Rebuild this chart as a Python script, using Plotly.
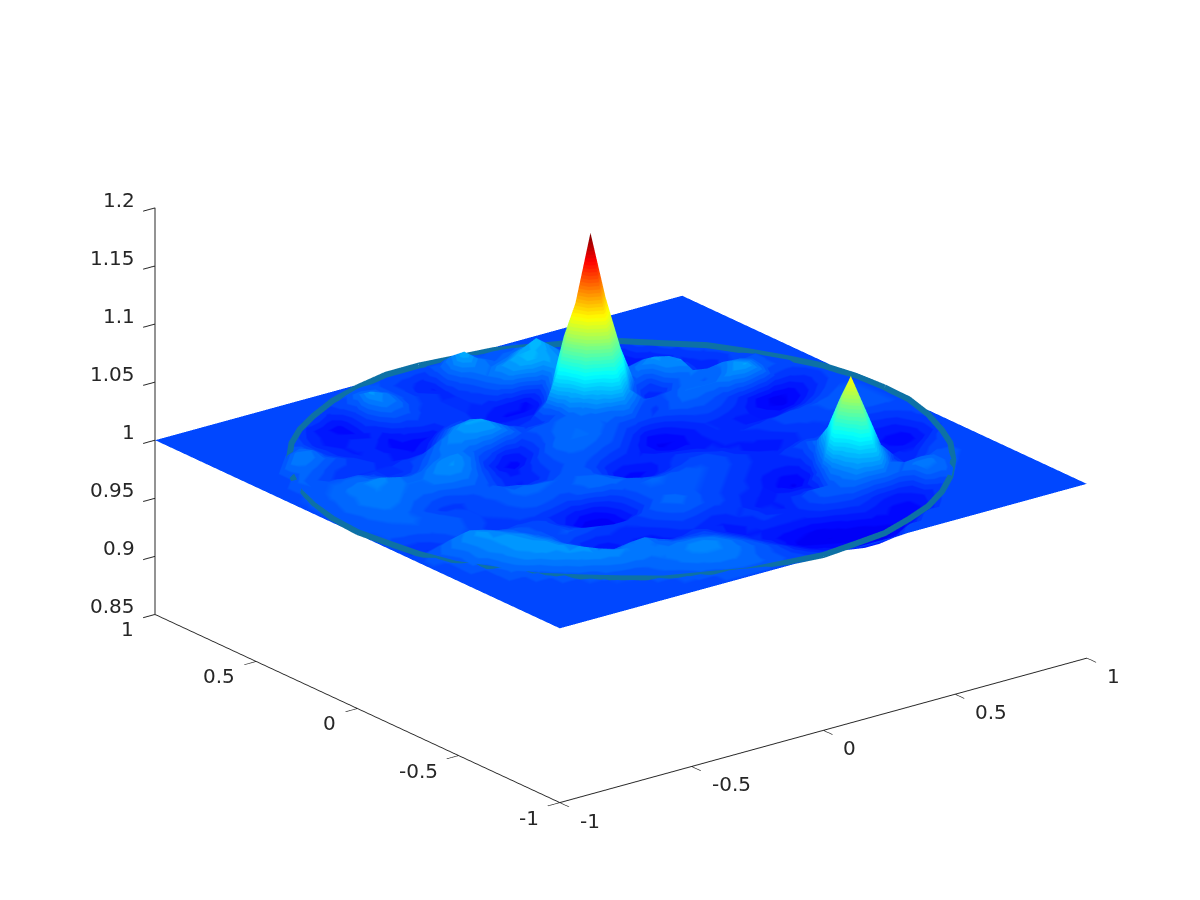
import numpy as np
import plotly.graph_objects as go

# Surface height above 1, in thousandths, rows y=-1..1 (36 rows), columns x=-1..1 (36 columns)
def row(lead, vals):
    return [0] * lead + vals + [0] * (36 - lead - len(vals))

height_rows = [
    row(0, []),
    row(12, [3,4,4,2,0,-2,-4,-6,-8,-10,-10,-8]),
    row(10, [2,5,7,7,5,2,0,-3,-6,-9,-11,-12,-13,-14,-12,-7]),
    row(8, [0,3,5,8,9,9,7,4,1,-3,-8,-12,-13,-14,-15,-16,-15,-13,-10,-6]),
    row(7, [1,2,4,6,8,10,10,8,4,0,-5,-10,-14,-15,-16,-15,-14,-12,-11,-12,-11,-5]),
    row(6, [2,6,8,8,7,7,8,8,6,2,-2,-7,-10,-12,-13,-14,-12,-9,-7,-9,-11,-11,-8,-3]),
    row(5, [4,8,11,11,9,7,6,4,3,2,0,-4,-8,-8,-8,-8,-8,-5,-3,-2,-4,-7,-8,-6,6,5]),
    row(4, [4,9,12,13,8,4,6,7,2,-2,-2,-2,-6,-10,-7,-4,-5,-6,-2,2,3,6,5,6,3,7,7,3]),
    row(3, [5,10,13,13,10,2,-8,-10,-5,-8,-9,-7,-5,-7,-8,-5,-4,-7,-8,-3,1,1,8,18,24,6,3,4,3,2]),
    row(3, [7,12,14,12,7,0,-9,-11,-7,-8,-8,-5,-2,-3,-5,-4,-5,-8,-8,-6,-6,-7,10,25,50,18,0,-6,-3,0]),
    row(2, [5,9,12,13,10,6,-1,-5,-6,-5,-6,-5,-2,1,3,1,-1,-3,-6,-8,-8,-9,-9,1,40,75,42,9,-5,-7,-3,-1]),
    row(2, [4,9,12,12,9,4,0,1,0,-2,-4,-4,-1,3,5,3,0,-2,-4,-5,-8,-11,-14,-9,12,50,26,10,-9,-8,-8,-4]),
    row(1, [2,6,10,13,10,6,2,0,0,-4,-10,-15,-14,-8,-1,3,2,1,0,-2,-4,-6,-9,-11,-10,-1,22,18,2,-11,-10,-11,-10,-5]),
    row(1, [0,3,7,10,7,3,1,0,-1,-6,-11,-16,-15,-8,-1,3,3,2,1,0,-2,-4,-6,-7,-7,-4,5,3,-1,-8,-10,-12,-12,-6]),
    row(1, [-4,-5,-2,1,0,-3,-4,-3,-3,-5,-7,-10,-10,-5,0,3,4,3,2,1,0,-2,-4,-6,-6,-3,0,-1,-5,-7,-8,-9,-9,-4]),
    row(1, [-2,-2,0,2,1,-1,-3,-2,0,1,0,-2,2,5,5,3,0,-2,-1,0,0,-1,-3,-5,-7,-8,-6,-4,-3,-4,-5,-5,-4,-2]),
    row(1, [1,2,3,3,2,0,-2,-1,1,3,3,2,3,5,4,0,-6,-9,-7,-4,-2,-2,-4,-7,-9,-10,-8,-5,-3,-2,-1,0,1,1]),
    row(0, [0,1,3,4,3,1,-1,-2,-1,1,4,5,4,3,3,2,-3,-10,-12,-10,-6,-4,-5,-7,-8,-8,-7,-5,-2,-1,-1,1,2,2,1,0]),
    row(0, [0,2,4,5,3,0,-3,-3,-1,2,3,1,-2,-2,1,2,-1,-6,-8,-7,-6,-7,-8,-9,-8,-6,-5,-4,-2,0,0,1,2,2,1,0]),
    row(1, [2,5,7,6,3,1,0,2,3,0,-5,-8,-6,-2,1,2,0,-3,-5,-8,-10,-12,-11,-8,-5,-6,-8,-8,-8,-6,-4,-1,1,1]),
    row(1, [3,6,8,8,6,5,6,8,8,3,-3,-7,-7,-3,1,4,4,2,0,-5,-10,-14,-13,-9,-5,-6,-8,-8,-9,-11,-10,-6,-2,0]),
    row(1, [2,5,7,9,8,6,6,10,12,8,0,-6,-9,-6,0,5,6,6,3,0,-5,-11,-10,-6,-2,-1,-3,-6,-10,-13,-14,-11,-6,-2]),
    row(1, [2,4,7,9,10,7,4,6,10,11,6,-4,-10,-12,-6,1,5,6,5,3,0,-1,-2,0,3,3,1,-2,-6,-11,-14,-13,-8,-3]),
    row(1, [1,3,4,5,4,2,-2,-1,4,7,7,3,-1,-9,-7,-1,3,5,4,4,6,10,0,-3,1,6,6,6,11,15,7,-3,-4,-2]),
    row(2, [3,3,3,3,-1,-5,-5,-1,4,9,10,12,13,6,0,2,3,4,10,22,40,13,1,0,2,5,3,5,12,9,2,0]),
    row(2, [4,1,-2,-4,-5,-5,-5,-3,-2,4,10,15,15,8,1,-3,-3,1,20,60,85,52,4,-7,-5,3,7,5,7,6,3,0]),
    row(3, [5,2,-2,-3,-3,-6,-8,-9,-8,0,8,10,5,-3,-6,-5,5,36,85,142,83,36,1,-3,10,12,-3,-7,-3,-1]),
    row(3, [7,8,4,0,-4,-7,-7,-9,-11,-8,-1,1,-3,-7,-8,-8,-8,2,52,85,56,18,0,8,13,10,-1,-7,-6,-2]),
    row(4, [7,6,-2,-6,-8,-7,-10,-12,-12,-10,-4,-3,-6,-9,-11,-11,-10,8,40,24,12,2,3,6,3,-4,-6,-3]),
    row(5, [3,-2,-6,-8,-6,-7,-11,-6,-3,-3,-3,-5,-6,-8,-9,-11,-1,13,10,2,-3,-4,-5,-8,-9,-4]),
    row(6, [-2,-7,-9,-8,-9,-6,2,1,-3,-3,-5,-5,-3,3,12,18,16,12,9,-1,-6,-9,-10,-6]),
    row(7, [-5,-8,-10,-11,-2,9,6,-1,-3,-5,-5,-1,6,12,17,18,14,8,-2,-6,-10,-8]),
    row(8, [-7,-10,-12,-3,13,8,1,-2,-4,-6,2,8,6,8,14,20,10,0,-4,-6]),
    row(10, [-6,-1,6,5,1,-2,-6,-8,5,18,8,3,5,8,3,-2]),
    row(12, [1,2,1,-2,-4,-6,2,10,5,1,2,2]),
    row(0, []),
]

# Rim line around the disc
rim_x = [1,.991,.966,.924,.866,.793,.707,.609,.5,.383,.259,.131,0,-.131,-.259,-.383,-.5,-.609,-.707,-.793,-.866,-.924,-.966,-.991,
         -1,-.991,-.966,-.924,-.866,-.793,-.707,-.609,-.5,-.383,-.259,-.131,0,.131,.259,.383,.5,.609,.707,.793,.866,.924,.966,.991,1]
rim_y = [0,.131,.259,.383,.5,.609,.707,.793,.866,.924,.966,.991,1,.991,.966,.924,.866,.793,.707,.609,.5,.383,.259,.131,
         0,-.131,-.259,-.383,-.5,-.609,-.707,-.793,-.866,-.924,-.966,-.991,-1,-.991,-.966,-.924,-.866,-.793,-.707,-.609,-.5,-.383,-.259,-.131,0]
rim_z = [1.002,1.002,1.002,1.001,1.001,1.002,1.001,1.002,1.002,1.001,1.002,1.001,1.002,1.003,1.002,1.002,1.001,1.002,1.003,1.001,1.002,1.001,1.002,1.002,
         1.002,1.003,1.002,1.001,1.002,1.001,1.002,1.002,1.001,1.002,1.001,1.002,1.001,1.002,1.001,1.002,1.001,1.001,1.001,1.002,1.003,1.001,1.002,1.003,1.002]

tick_vals = [-1, -0.5, 0, 0.5, 1]
tick_text = ['-1', '-0.5', '0', '0.5', '1']
z_tick_vals = [0.85, 0.9, 0.95, 1, 1.05, 1.1, 1.15, 1.2]
z_tick_text = ['0.85', '0.9', '0.95', '1', '1.05', '1.1', '1.15', '1.2']

Z = 1 + np.array(height_rows, dtype=float) / 1000
assert Z.shape == (36, 36)
grid = np.linspace(-1, 1, 36)
X, Y = np.meshgrid(grid, grid)
n = 36
idx = np.arange(n * n).reshape(n, n)
a, b, c, d = idx[:-1, :-1].ravel(), idx[:-1, 1:].ravel(), idx[1:, 1:].ravel(), idx[1:, :-1].ravel()
tri_i = np.concatenate([a, a])
tri_j = np.concatenate([b, c])
tri_k = np.concatenate([c, d])


def jet(f):
    r = np.clip(min(4 * f - 1.5, -4 * f + 4.5), 0, 1)
    g = np.clip(min(4 * f - 0.5, -4 * f + 3.5), 0, 1)
    b_ = np.clip(min(4 * f + 0.5, -4 * f + 2.5), 0, 1)
    return f'rgb({int(r*255)},{int(g*255)},{int(b_*255)})'


scale = []
for q in range(64):
    col = jet((q + 0.5) / 64)
    scale += [[q / 64, col], [(q + 1) / 64, col]]

fig = go.Figure()
fig.add_trace(go.Mesh3d(
    x=X.ravel(), y=Y.ravel(), z=Z.ravel(), i=tri_i, j=tri_j, k=tri_k,
    intensity=Z.ravel(), colorscale=scale, cmin=0.9645, cmax=1.142, showscale=False, hoverinfo='skip',
    lighting=dict(ambient=1, diffuse=0, specular=0, fresnel=0, roughness=1),
))
fig.add_trace(go.Scatter3d(
    x=rim_x, y=rim_y, z=rim_z, mode='lines', line=dict(color='#0d71a5', width=12), hoverinfo='skip', showlegend=False,
))

ink = '#262626'
font = dict(family='DejaVu Sans', size=20, color=ink)
common = dict(showgrid=False, showbackground=False, showline=True, linecolor=ink, linewidth=2, zeroline=False,
              ticks='outside', tickcolor=ink, tickwidth=2, ticklen=15, showticklabels=False, title='', showspikes=False)

notes = []
for v, t in zip(tick_vals, tick_text):
    notes.append(dict(x=v, y=-1, z=0.85, text=t, showarrow=False, font=font, xanchor='left', yanchor='middle', xshift=18, yshift=-18))
    notes.append(dict(x=-1, y=v, z=0.85, text=t, showarrow=False, font=font, xanchor='right', yanchor='middle', xshift=-19, yshift=-15))
for v, t in zip(z_tick_vals, z_tick_text):
    notes.append(dict(x=-1, y=1, z=v, text=t, showarrow=False, font=font, xanchor='right', yanchor='middle', xshift=-18, yshift=8))

k = 1.24
fig.update_layout(
    width=1200, height=900, margin=dict(l=0, r=0, t=0, b=0), paper_bgcolor='white', showlegend=False,
    scene=dict(
        domain=dict(x=[0.0217, 1], y=[0.0556, 1]),
        xaxis=dict(range=[-1, 1], tickvals=tick_vals, **common),
        yaxis=dict(range=[-1, 1], tickvals=tick_vals, **common),
        zaxis=dict(range=[0.85, 1.2], tickvals=z_tick_vals, **common),
        aspectmode='manual', aspectratio=dict(x=1.564, y=1.564, z=1.024),
        camera=dict(projection=dict(type='orthographic'), up=dict(x=0, y=0, z=1), center=dict(x=0, y=0, z=0),
                    eye=dict(x=-0.569 * k, y=-0.741 * k, z=0.357 * k)),
        annotations=notes,
    ),
)
fig.write_html('out.html')
